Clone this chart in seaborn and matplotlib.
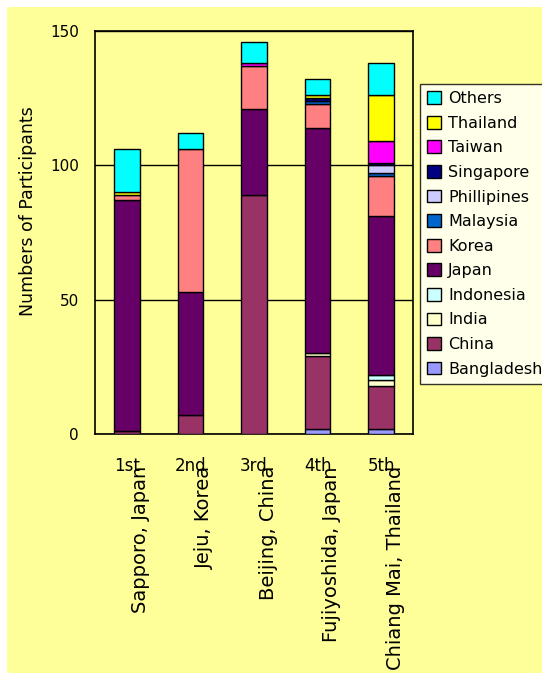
import matplotlib
matplotlib.use("Agg")
import matplotlib.pyplot as plt
from matplotlib.patches import Rectangle
from matplotlib import transforms
import numpy as np
import pandas as pd
import seaborn as sns

# Meeting venues
venues = ["1st", "2nd", "3rd", "4th", "5th"]
cities = ["Sapporo, Japan", "Jeju, Korea", "Beijing, China",
          "Fujiyoshida, Japan", "Chiang Mai, Thailand"]

# Participants per country at each meeting (stacking order, bottom to top)
countries = ["Bangladesh", "China", "India", "Indonesia", "Japan", "Korea",
             "Malaysia", "Phillipines", "Singapore", "Taiwan", "Thailand", "Others"]
bangladesh = [0, 0, 0, 2, 2]
china = [1, 7, 89, 27, 16]
india = [0, 0, 0, 1, 2]
indonesia = [0, 0, 0, 0, 2]
japan = [86, 46, 32, 84, 59]
korea = [2, 53, 16, 9, 15]
malaysia = [0, 0, 0, 1, 1]
phillipines = [0, 0, 0, 0, 3]
singapore = [0, 0, 0, 1, 1]
taiwan = [0, 0, 1, 0, 8]
thailand = [1, 0, 0, 1, 17]
others = [16, 6, 8, 6, 12]

series = [bangladesh, china, india, indonesia, japan, korea,
          malaysia, phillipines, singapore, taiwan, thailand, others]

colors = {
    "Bangladesh": "#9999FF", "China": "#993366", "India": "#FFFFCC",
    "Indonesia": "#CCFFFF", "Japan": "#660066", "Korea": "#FF8080",
    "Malaysia": "#0066CC", "Phillipines": "#CCCCFF", "Singapore": "#000080",
    "Taiwan": "#FF00FF", "Thailand": "#FFFF00", "Others": "#00FFFF",
}

rows = []
for name, vals in zip(countries, series):
    for v, c in zip(venues, vals):
        rows.append({"venue": v, "country": name, "count": c})
df = pd.DataFrame(rows)
df["base"] = df.groupby("venue")["count"].cumsum() - df["count"]

bg = "#FFFF99"
sns.set_style("white")
plt.rcParams["font.family"] = ["DejaVu Sans"]
plt.rcParams["text.color"] = "black"
plt.rcParams["xtick.color"] = "black"
plt.rcParams["ytick.color"] = "black"
plt.rcParams["axes.labelcolor"] = "black"

fig = plt.figure(figsize=(5.42, 6.76), dpi=100)
fig.patch.set_facecolor("white")
fig.patches.append(Rectangle((7 / 542, 3 / 676), 535 / 542, 666 / 676,
                             transform=fig.transFigure, facecolor=bg,
                             edgecolor="none", zorder=-10))

ax = fig.add_axes([95 / 542, 1 - 434 / 676, 318 / 542, 403 / 676])
ax.set_facecolor(bg)

for name in countries:
    sub = df[(df["country"] == name) & (df["count"] > 0)].copy()
    sub["venue"] = pd.Categorical(sub["venue"], categories=venues, ordered=True)
    sub = sub.sort_values("venue")
    sns.barplot(data=sub, x="venue", y="count", order=venues,
                bottom=sub["base"].to_numpy(), color=colors[name],
                saturation=1, width=0.4, errorbar=None,
                edgecolor="black", linewidth=1.0, ax=ax, zorder=3)

ax.set_xlim(-0.5, 4.5)
ax.set_ylim(0, 150)
ax.set_yticks([0, 50, 100, 150])
ax.tick_params(axis="y", direction="inout", length=7, width=1, labelsize=11,
               pad=8, color="black", labelcolor="black")
ax.yaxis.grid(True, color="black", linewidth=1)
ax.set_axisbelow(True)
for s in ax.spines.values():
    s.set_visible(True)
    s.set_color("black")
    s.set_linewidth(1.2)

# tick marks between venues, labels drawn separately
ax.set_xticks(np.arange(-0.5, 5, 1.0))
ax.set_xticklabels([])
ax.tick_params(axis="x", direction="in", length=7, width=1, color="black")
ax.set_xlabel("")
ax.set_ylabel("")

down = transforms.offset_copy(ax.get_xaxis_transform(), fig=fig, x=0, y=-23, units="dots")
side = transforms.offset_copy(ax.get_xaxis_transform(), fig=fig, x=14, y=-32, units="dots")
for i, (v, c) in enumerate(zip(venues, cities)):
    ax.text(i, 0, v, transform=down, ha="center", va="top", fontsize=12, color="black")
    ax.text(i, 0, c, transform=side, ha="center", va="top", rotation=90,
            fontsize=14, color="black")

fig.text(28 / 542, 1 - 211 / 676, "Numbers of Participants", rotation=90,
         ha="center", va="center", fontsize=12.5, color="black")

handles = [Rectangle((0, 0), 1, 1, facecolor=colors[n], edgecolor="black", linewidth=1)
           for n in countries[::-1]]
leg = fig.legend(handles, countries[::-1], loc="upper left",
                 bbox_to_anchor=(420 / 542, 1 - 84 / 676), frameon=True,
                 fancybox=False, facecolor="white", edgecolor="black",
                 fontsize=11.5, handlelength=0.85, handleheight=0.85,
                 handletextpad=0.45, labelspacing=0.6, borderpad=0.45,
                 borderaxespad=0)
leg.get_frame().set_linewidth(1)
for t in leg.get_texts():
    t.set_color("black")

fig.savefig("out.png", dpi=100, facecolor=fig.get_facecolor())
